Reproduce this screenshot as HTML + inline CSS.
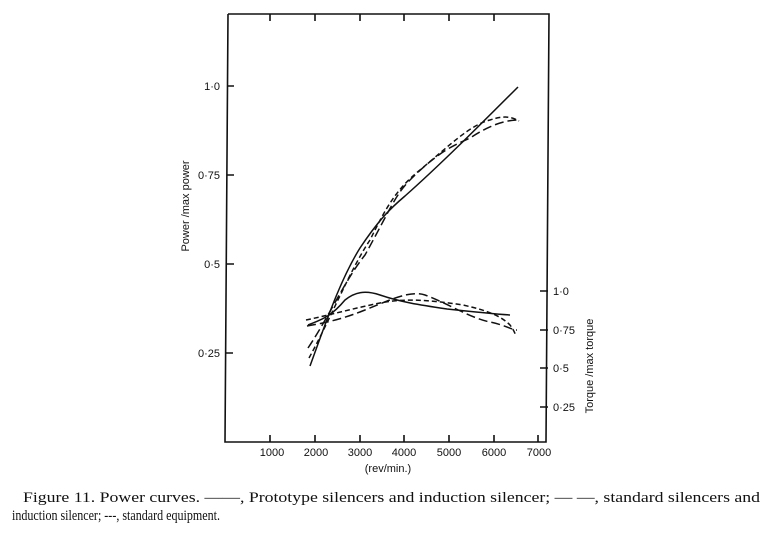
<!DOCTYPE html>
<html><head><meta charset="utf-8"><style>
html,body{margin:0;padding:0;background:#fff;}
svg{display:block;}
</style></head><body>
<svg width="776" height="539" viewBox="0 0 776 539" xmlns="http://www.w3.org/2000/svg">
<g stroke="#111" fill="none" stroke-width="1.6">
<polyline points="228,14 549,14 546,442 225,442 228,14"/>
<path d="M270,14v7M315,14v7M360,14v7M404,14v7M449,14v7M494,14v7"/>
<path d="M270,442v-7M315,442v-7M360,442v-7M404,442v-7M449,442v-7M494,442v-7M538,442v-7"/>
<path d="M227,86h7M227,175h7M227,264h7M226,353h7"/>
<path d="M540,291h8M540,330h8M540,368h8M540,407h8"/>
</g>
<g font-family="'Liberation Sans',sans-serif" font-size="11" fill="#111">
<text x="220" y="90" text-anchor="end">1·0</text>
<text x="220" y="179" text-anchor="end">0·75</text>
<text x="220" y="268" text-anchor="end">0·5</text>
<text x="220" y="357" text-anchor="end">0·25</text>
<text x="553" y="295">1·0</text>
<text x="553" y="334">0·75</text>
<text x="553" y="372">0·5</text>
<text x="553" y="411">0·25</text>
<text x="272" y="456" text-anchor="middle">1000</text>
<text x="316" y="456" text-anchor="middle">2000</text>
<text x="360" y="456" text-anchor="middle">3000</text>
<text x="404" y="456" text-anchor="middle">4000</text>
<text x="449" y="456" text-anchor="middle">5000</text>
<text x="494" y="456" text-anchor="middle">6000</text>
<text x="539" y="456" text-anchor="middle">7000</text>
<text x="388" y="472" text-anchor="middle">(rev/min.)</text>
<text transform="translate(189,206) rotate(-90)" text-anchor="middle">Power /max power</text>
<text transform="translate(593,366) rotate(-90)" text-anchor="middle">Torque /max  torque</text>
</g>
<g stroke="#111" fill="none" stroke-width="1.5">
<path d="M310,366 C325,325 340,280 360,248 C380,218 392,207 405,196 C440,165 480,125 518,87"/>
<path stroke-dasharray="9,4" d="M308,348 C330,315 345,280 365,255 C390,210 395,195 410,180 C440,150 455,145 470,138 C490,125 505,120 519,120"/>
<path stroke-dasharray="5,3" d="M309,358 C330,320 350,270 370,240 C385,210 395,190 420,170 C450,145 470,125 490,120 C505,115 512,117 519,121"/>
<path d="M308,325 C320,320 330,318 345,300 C355,292 365,290 380,295 C400,302 420,305 447,309 C475,312 495,314 510,315"/>
<path stroke-dasharray="9,4" d="M307,326 C330,322 345,318 365,310 C390,300 410,290 425,295 C445,302 470,318 490,322 C505,325 512,330 517,330"/>
<path stroke-dasharray="5,3" d="M306,320 C330,315 355,308 380,303 C405,298 430,300 463,305 C485,310 500,315 510,325 C513,329 515,333 516,336"/>
</g>
<g font-family="'Liberation Serif',serif" font-size="15" fill="#111">
<text x="23" y="502" textLength="737" lengthAdjust="spacingAndGlyphs">Figure 11. Power curves. ——, Prototype silencers and induction silencer; — —, standard silencers and</text>
<text x="12" y="520" textLength="208" lengthAdjust="spacingAndGlyphs">induction silencer; ---, standard equipment.</text>
</g>
</svg>
</body></html>
